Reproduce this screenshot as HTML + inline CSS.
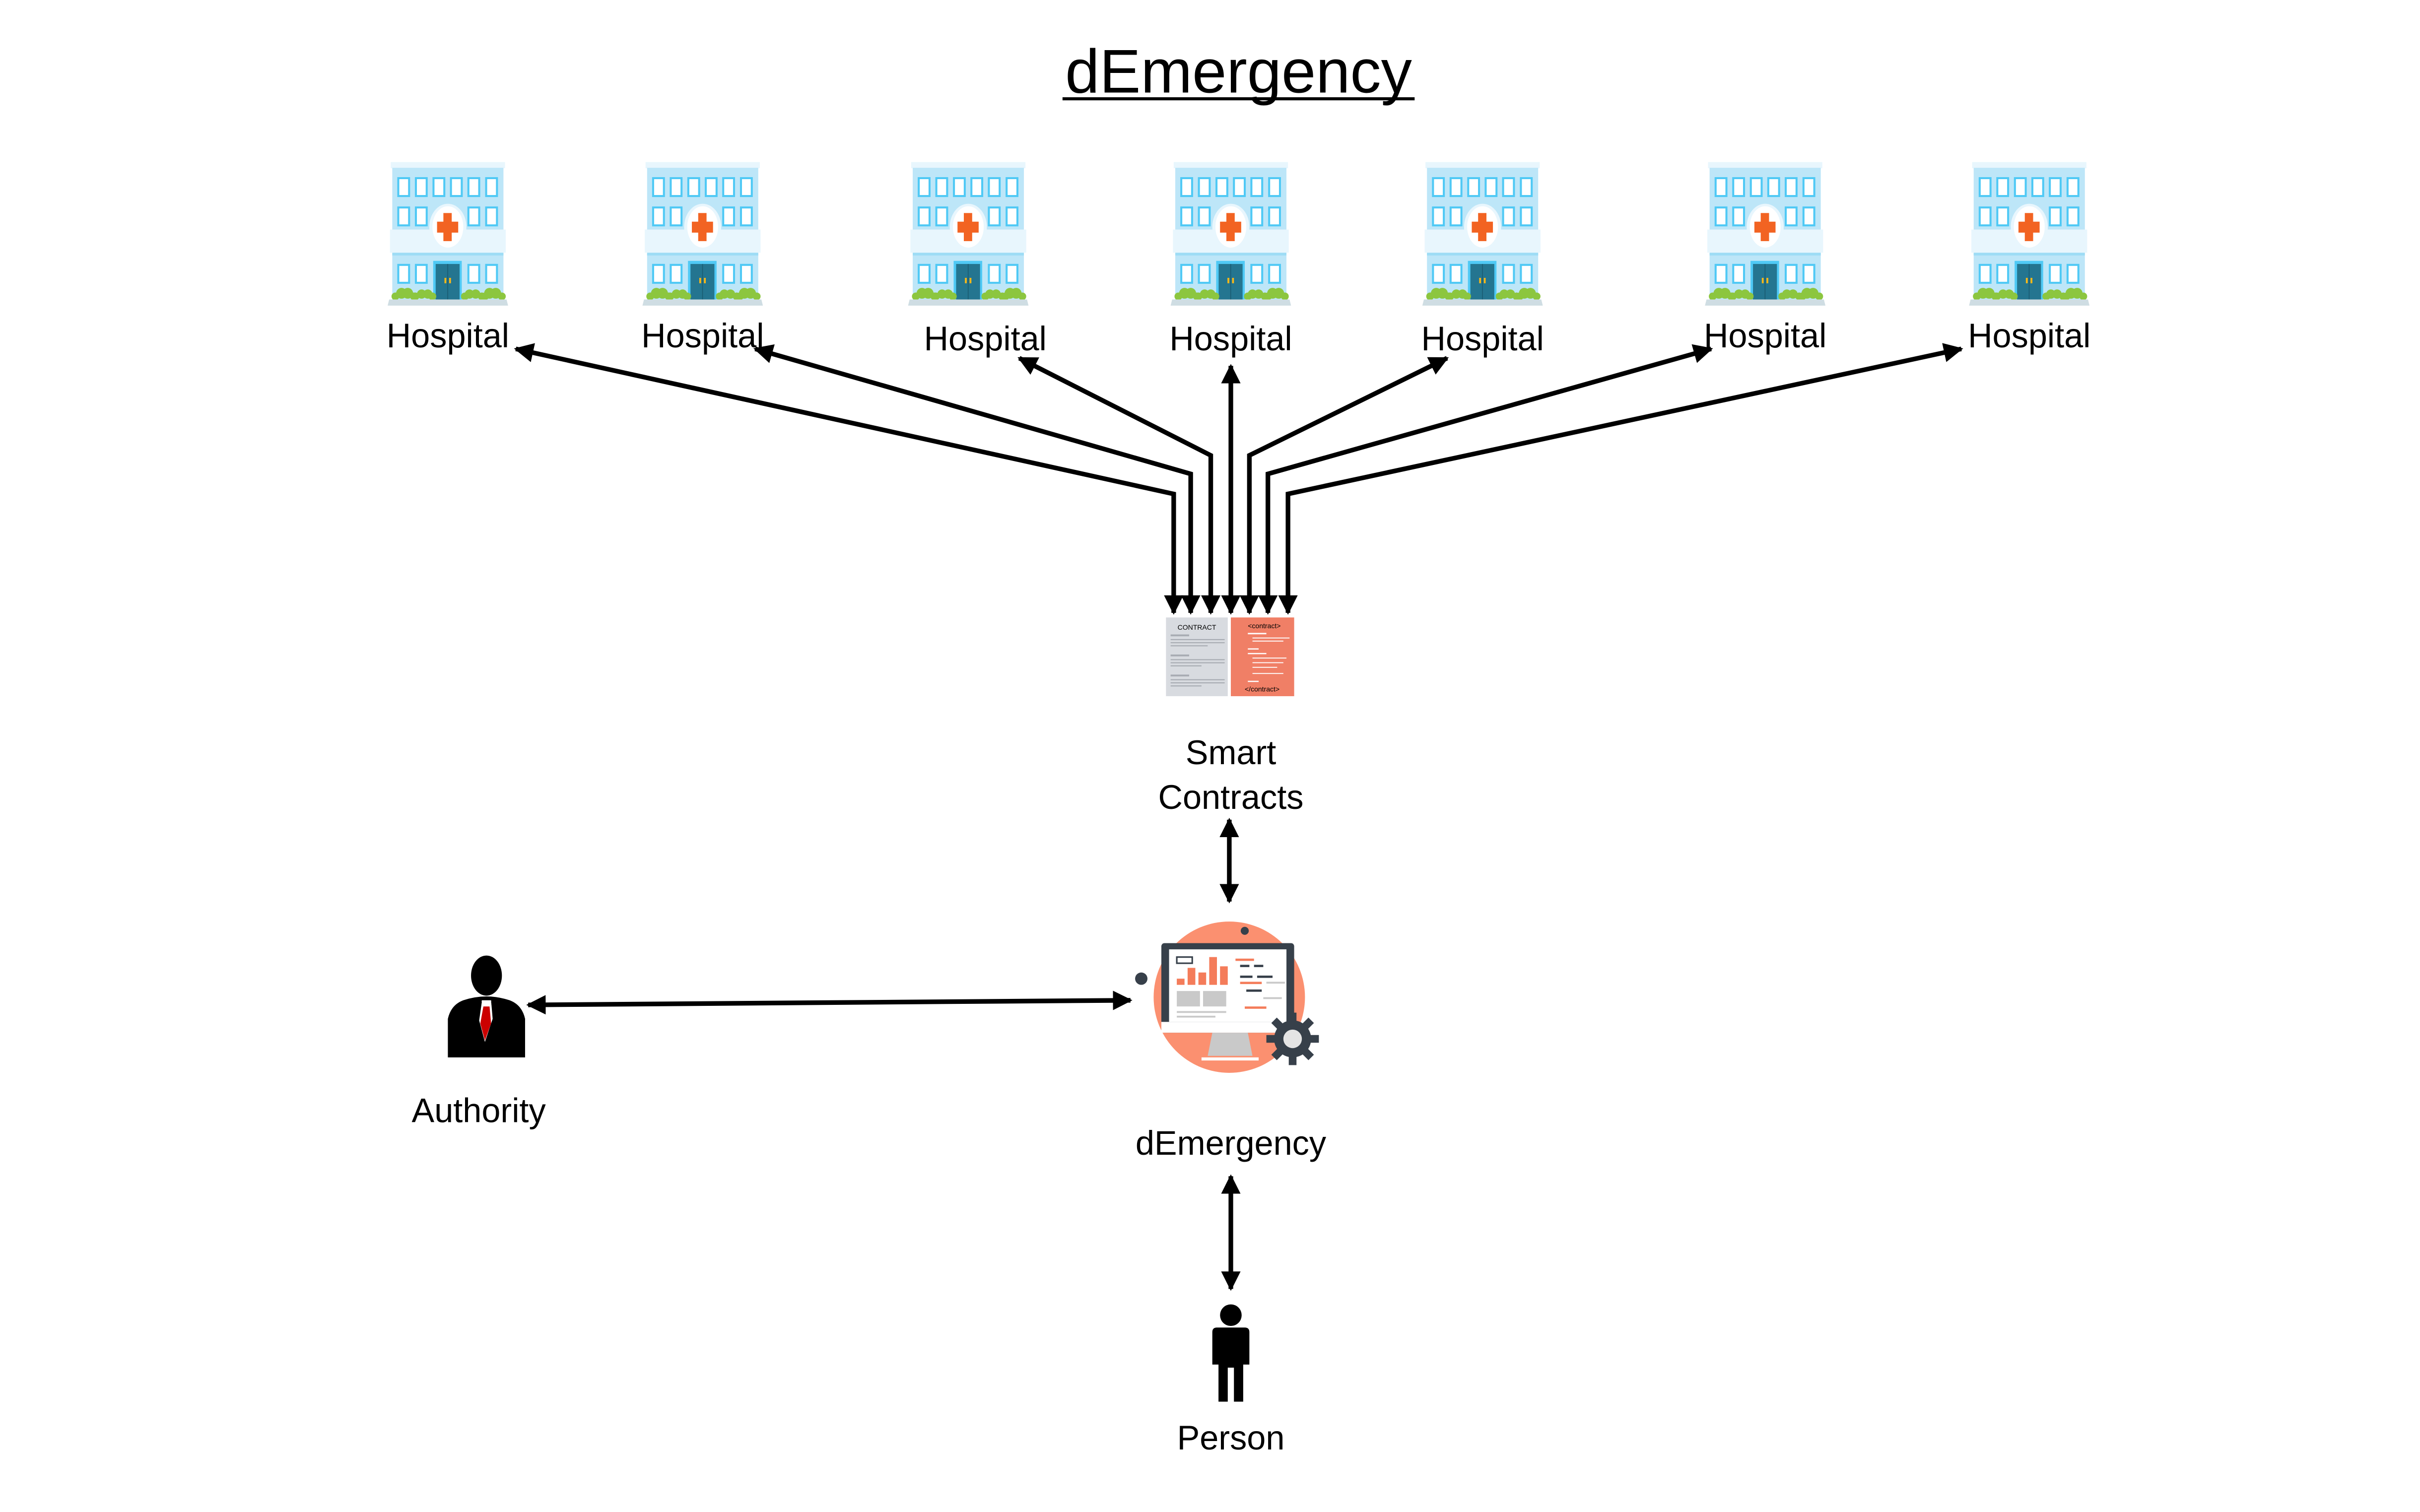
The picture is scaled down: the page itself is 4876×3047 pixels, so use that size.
<!DOCTYPE html>
<html><head><meta charset="utf-8"><style>
html,body{margin:0;padding:0;background:#fff;}
svg{display:block;}
text{font-family:"Liberation Sans",sans-serif;fill:#000;}
</style></head><body>
<svg width="4876" height="3047" viewBox="0 0 1567 979.5" preserveAspectRatio="none" xmlns="http://www.w3.org/2000/svg">
<defs>
<marker id="ah" viewBox="0 0 10 10" refX="9" refY="5" markerWidth="4.2" markerHeight="4.2" orient="auto-start-reverse" markerUnits="strokeWidth">
<path d="M0,0 L10,5 L0,10 z" fill="#000"/></marker>
<g id="hosp">
<rect x="0" y="0" width="74" height="4" fill="#e8f6fd"/>
<rect x="1" y="3.7" width="72" height="41" fill="#bde6f8"/>
<rect x="1" y="59" width="72" height="31" fill="#bde6f8"/>
<rect x="-0.5" y="43.7" width="75" height="15" fill="#e8f6fd"/>
<rect x="1" y="58.7" width="72" height="1.8" fill="#9ddcf5"/>
<g fill="#fff" stroke="#4fc9f5" stroke-width="1.3">
<rect x="4.9" y="10.4" width="7" height="11.6"/><rect x="16.3" y="10.4" width="7" height="11.6"/><rect x="27.7" y="10.4" width="7" height="11.6"/><rect x="39" y="10.4" width="7" height="11.6"/><rect x="50.3" y="10.4" width="7" height="11.6"/><rect x="61.8" y="10.4" width="7" height="11.6"/>
<rect x="4.9" y="29.4" width="7" height="11.6"/><rect x="16.3" y="29.4" width="7" height="11.6"/><rect x="50.3" y="29.4" width="7" height="11.6"/><rect x="61.8" y="29.4" width="7" height="11.6"/>
<rect x="4.9" y="66.6" width="7" height="11.6"/><rect x="16.3" y="66.6" width="7" height="11.6"/><rect x="50.3" y="66.6" width="7" height="11.6"/><rect x="61.8" y="66.6" width="7" height="11.6"/>
</g>
<ellipse cx="37" cy="42" rx="12" ry="15" fill="#e8f6fd"/>
<ellipse cx="37" cy="42" rx="10" ry="13.4" fill="#fff"/>
<rect x="34.1" y="33" width="5.4" height="18.2" fill="#f26322"/>
<rect x="30" y="38.6" width="13.7" height="7.1" fill="#f26322"/>
<rect x="27.5" y="64" width="18.5" height="25" fill="#4fc9f5"/>
<rect x="29.1" y="66" width="15.5" height="23" fill="#247590"/>
<line x1="36.9" y1="66" x2="36.9" y2="89" stroke="#1a5a70" stroke-width="0.5"/>
<rect x="34.8" y="75" width="1.2" height="3.5" fill="#fbb917"/><rect x="37.8" y="75" width="1.2" height="3.5" fill="#fbb917"/>
<g fill="#8cc63f">
<circle cx="3" cy="87" r="2.5"/><circle cx="7" cy="85" r="3.5"/><circle cx="11" cy="85" r="3.5"/><circle cx="15" cy="87" r="2.5"/>
<circle cx="16" cy="87" r="2.5"/><circle cx="20" cy="85.5" r="3"/><circle cx="24" cy="85.5" r="3"/><circle cx="27" cy="87" r="2.5"/>
<circle cx="48" cy="87" r="2.5"/><circle cx="51" cy="85.5" r="3"/><circle cx="55" cy="85.5" r="3"/><circle cx="59" cy="87" r="2.5"/>
<circle cx="61" cy="87" r="2.5"/><circle cx="64" cy="85" r="3.5"/><circle cx="68" cy="85" r="3.5"/><circle cx="72" cy="87" r="2.5"/>
</g>
<polygon points="-1,89 75,89 76,93 -2,93" fill="#cfdde3"/>
</g>
</defs>

<text x="802" y="60" font-size="40" text-anchor="middle">dEmergency</text>
<rect x="688" y="63" width="228" height="2" fill="#000"/>

<use href="#hosp" x="253" y="105"/>
<use href="#hosp" x="418" y="105"/>
<use href="#hosp" x="590" y="105"/>
<use href="#hosp" x="760" y="105"/>
<use href="#hosp" x="923" y="105"/>
<use href="#hosp" x="1106" y="105"/>
<use href="#hosp" x="1277" y="105"/>

<g font-size="22" text-anchor="middle">
<text x="290" y="225">Hospital</text>
<text x="455" y="225">Hospital</text>
<text x="638" y="227">Hospital</text>
<text x="797" y="227">Hospital</text>
<text x="960" y="227">Hospital</text>
<text x="1143" y="225">Hospital</text>
<text x="1314" y="225">Hospital</text>
</g>

<g fill="none" stroke="#000" stroke-width="3" marker-start="url(#ah)" marker-end="url(#ah)">
<polyline points="334,226 760,320 760,397"/>
<polyline points="489,226 771,307 771,397"/>
<polyline points="660,232 784,295 784,397"/>
<polyline points="797,237 797,397"/>
<polyline points="937,232 809,295 809,397"/>
<polyline points="1108,226 821,307 821,397"/>
<polyline points="1270,226 834,320 834,397"/>
<polyline points="796,531 796,584"/>
<polyline points="342,651 732,648"/>
<polyline points="797,762 797,835"/>
</g>

<!-- contract -->
<rect x="755" y="400" width="40" height="51" fill="#d8dbe0"/>
<text x="775" y="408" font-size="4.5" text-anchor="middle" fill="#555">CONTRACT</text>
<g fill="#a8acb3">
<rect x="758" y="411" width="12" height="1.2"/><rect x="758" y="414" width="35" height="0.7"/><rect x="758" y="416" width="35" height="0.7"/><rect x="758" y="418" width="24" height="0.7"/>
<rect x="758" y="424" width="12" height="1.2"/><rect x="758" y="427" width="35" height="0.7"/><rect x="758" y="429" width="35" height="0.7"/><rect x="758" y="431" width="20" height="0.7"/>
<rect x="758" y="437" width="12" height="1.2"/><rect x="758" y="440" width="35" height="0.7"/><rect x="758" y="442" width="35" height="0.7"/><rect x="758" y="444" width="20" height="0.7"/>
</g>
<rect x="797" y="400" width="41" height="51" fill="#f07f66"/>
<text x="808" y="407" font-size="4.5" fill="#fff">&lt;contract&gt;</text>
<text x="806" y="448" font-size="4.5" fill="#fff">&lt;/contract&gt;</text>
<g fill="#fff"><rect x="808" y="410" width="12" height="0.9"/><rect x="811" y="413" width="24" height="0.6"/><rect x="811" y="415" width="20" height="0.6"/><rect x="808" y="420" width="7" height="0.8"/><rect x="808" y="423" width="12" height="0.8"/><rect x="811" y="426" width="22" height="0.6"/><rect x="811" y="429" width="20" height="0.6"/><rect x="811" y="432" width="16" height="0.6"/><rect x="811" y="436" width="20" height="0.6"/><rect x="808" y="441" width="7" height="0.8"/></g>

<g font-size="22" text-anchor="middle">
<text x="797" y="495">Smart</text>
<text x="797" y="524">Contracts</text>
</g>

<!-- dEmergency app icon -->
<circle cx="796" cy="646" r="49" fill="#fb9070"/>
<circle cx="739" cy="634" r="4" fill="#37404a"/>
<circle cx="806" cy="603" r="2.6" fill="#37404a"/>
<rect x="752" y="611" width="86" height="58" rx="2" fill="#37404a"/>
<rect x="757" y="615" width="76" height="47" fill="#fff"/>
<rect x="752" y="662" width="86" height="7" fill="#fff"/>
<polygon points="785,669 808,669 811,684 782,684" fill="#c9c9c9"/>
<rect x="778" y="685" width="37" height="2" fill="#fff"/>
<g fill="#f47c5a"><rect x="762" y="634" width="5" height="4"/><rect x="769" y="627" width="5" height="11"/><rect x="776" y="630" width="5" height="8"/><rect x="783" y="620" width="5" height="18"/><rect x="790" y="626" width="5" height="12"/><rect x="800" y="621" width="12" height="1.5"/><rect x="803" y="636" width="14" height="1.5"/><rect x="806" y="652" width="14" height="1.5"/></g>
<rect x="762" y="642" width="15" height="10" fill="#c9c9c9"/><rect x="779" y="642" width="15" height="10" fill="#c9c9c9"/>
<rect x="762" y="620" width="10" height="4" fill="none" stroke="#37404a" stroke-width="1"/>
<g fill="#37404a"><rect x="803" y="625" width="6" height="1.5"/><rect x="812" y="625" width="6" height="1.5"/><rect x="803" y="632" width="8" height="1.5"/><rect x="814" y="632" width="10" height="1.5"/><rect x="807" y="641" width="10" height="1.5"/></g>
<g fill="#c9c9c9"><rect x="762" y="655" width="32" height="1.2"/><rect x="762" y="658" width="25" height="1.2"/><rect x="820" y="636" width="12" height="1.2"/><rect x="818" y="646" width="12" height="1.2"/></g>
<g transform="translate(837,673)">
<g fill="#37404a">
<circle r="12"/>
<rect x="-2.5" y="-17" width="5" height="34"/><rect x="-17" y="-2.5" width="34" height="5"/>
<rect x="-2.5" y="-17" width="5" height="34" transform="rotate(45)"/><rect x="-2.5" y="-17" width="5" height="34" transform="rotate(-45)"/>
</g>
<circle r="6" fill="#e4e4e4"/>
</g>
<text x="797" y="748" font-size="22" text-anchor="middle">dEmergency</text>

<!-- Authority -->
<ellipse cx="315" cy="632" rx="10" ry="13" fill="#000"/>
<path d="M300,648 Q315,643 330,648 Q338,651 340,660 L340,685 L290,685 L290,660 Q292,651 300,648 Z" fill="#000"/>
<polygon points="312,648 318,648 319,660 314,675 310,660" fill="#fff"/>
<polygon points="313,652 317,652 318,663 314,674 311,663" fill="#c00"/>
<polygon points="306,647 312,649 309,670 302,656" fill="#000"/>
<polygon points="324,647 318,649 321,670 328,656" fill="#000"/>
<text x="310" y="727" font-size="22" text-anchor="middle">Authority</text>

<!-- Person -->
<circle cx="797" cy="852" r="7" fill="#000"/>
<path d="M788,860 L806,860 Q809,860 809,863 L809,884 L805,884 L805,908 L799,908 L799,886 L795,886 L795,908 L789,908 L789,884 L785,884 L785,863 Q785,860 788,860 Z" fill="#000"/>
<text x="797" y="939" font-size="22" text-anchor="middle">Person</text>
</svg>
</body></html>
